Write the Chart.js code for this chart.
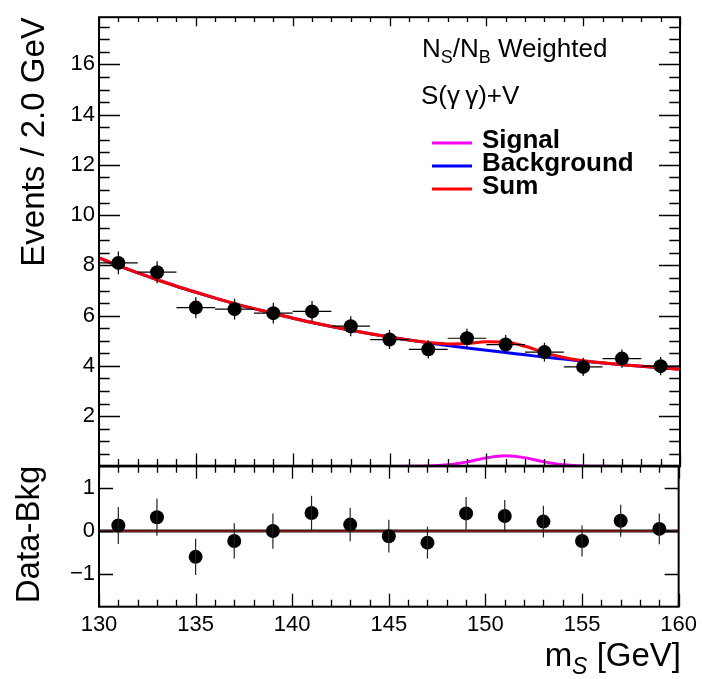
<!DOCTYPE html>
<html>
<head>
<meta charset="utf-8">
<script src="https://cdn.jsdelivr.net/npm/chart.js@4.4.1/dist/chart.umd.min.js"></script>
<style>
  body { margin: 0; background: #fff; }
  #wrap { position: relative; width: 702px; height: 679px; }
  #topPad { position: absolute; left: 0; top: 0; }
  #bottomPad { position: absolute; left: 0; top: 446px; }
</style>
</head>
<body>
<div id="wrap">
  <canvas id="topPad" width="702" height="487"></canvas>
  <canvas id="bottomPad" width="702" height="233"></canvas>
</div>
<script>
// bin centres (2 GeV bins) and the weighted event counts
var massBins = [131, 133, 135, 137, 139, 141, 143, 145, 147, 149, 151, 153, 155, 157, 159];
var binHalfWidth = 1;
var eventCounts = [8.10, 7.73, 6.32, 6.26, 6.10, 6.17, 5.58, 5.05, 4.66, 5.10, 4.85, 4.55, 3.96, 4.29, 3.99];
var eventErrors = [0.45, 0.44, 0.42, 0.41, 0.41, 0.41, 0.40, 0.38, 0.37, 0.38, 0.38, 0.37, 0.36, 0.36, 0.36];

// data minus background fit
var residualValues = [0.13, 0.32, -0.60, -0.23, 0.00, 0.42, 0.15, -0.12, -0.27, 0.41, 0.35, 0.22, -0.23, 0.24, 0.05];
var residualErrors = [0.43, 0.43, 0.42, 0.41, 0.41, 0.40, 0.39, 0.38, 0.37, 0.38, 0.37, 0.37, 0.36, 0.37, 0.36];

// background fit curve
var bkgMass = [130, 131, 132, 133, 134, 135, 136, 137, 138, 139, 140, 141, 142, 143, 144, 145,
               146, 147, 148, 149, 150, 151, 152, 153, 154, 155, 156, 157, 158, 159, 160];
var bkgValues = [8.30, 7.99, 7.70, 7.43, 7.17, 6.93, 6.70, 6.48, 6.28, 6.09, 5.90, 5.73, 5.57, 5.42, 5.28, 5.15,
                 5.03, 4.92, 4.81, 4.71, 4.62, 4.53, 4.44, 4.35, 4.27, 4.19, 4.12, 4.05, 3.99, 3.93, 3.87];

// signal shape
var sigMass = [145, 146, 147, 148, 149, 150, 151, 152, 153, 154, 155, 156, 157];
var sigValues = [0.00, 0.002, 0.015, 0.065, 0.18, 0.34, 0.42, 0.34, 0.18, 0.065, 0.015, 0.002, 0.00];

// axis ticks
var xTickLabels = [130, 135, 140, 145, 150, 155, 160];
var yTopTickLabels = [2, 4, 6, 8, 10, 12, 14, 16];
var yBottomTickLabels = [-1, 0, 1];
var zeroLineX = [130, 160];
var zeroLineY = [0, 0];

var FONT = '"Liberation Sans", Arial, Helvetica, sans-serif';
Chart.defaults.font.family = FONT;
Chart.defaults.color = '#000';

function pts(xs, ys) {
	return xs.map(function(x, i) { return {x: x, y: ys[i]}; });
}

var sumValues = bkgValues.map(function(b, i) {
	var k = sigMass.indexOf(bkgMass[i]);
	return k >= 0 ? b + sigValues[k] : b;
});

// error bars through the chart's own scales
var errorBars = {
	id: 'errorBars',
	afterDatasetsDraw: function(chart) {
		var ctx = chart.ctx, xs = chart.scales.x, ys = chart.scales.y;
		chart.data.datasets.forEach(function(ds) {
			if (!ds.errY) return;
			ctx.save();
			ctx.strokeStyle = ds.errColor || '#000';
			ctx.lineWidth = 1.2;
			ds.data.forEach(function(p, i) {
				var px = xs.getPixelForValue(p.x);
				ctx.beginPath();
				ctx.moveTo(px, ys.getPixelForValue(p.y - ds.errY[i]));
				ctx.lineTo(px, ys.getPixelForValue(p.y + ds.errY[i]));
				if (ds.errX) {
					var py = ys.getPixelForValue(p.y);
					ctx.moveTo(xs.getPixelForValue(p.x - ds.errX), py);
					ctx.lineTo(xs.getPixelForValue(p.x + ds.errX), py);
				}
				ctx.stroke();
			});
			ctx.restore();
		});
	}
};

// ROOT style frame with inward ticks
var rootFrame = {
	id: 'rootFrame',
	afterDraw: function(chart, args, o) {
		var ctx = chart.ctx, a = chart.chartArea;
		var xs = chart.scales.x, ys = chart.scales.y;
		var isMajor = function(v, step) { return Math.abs(v / step - Math.round(v / step)) < 1e-6; };
		ctx.save();
		ctx.strokeStyle = '#000';
		ctx.lineWidth = 1.3;
		ctx.beginPath();
		for (var v = xs.min; v <= xs.max + 1e-9; v += o.xMinor) {
			var px = Math.round(xs.getPixelForValue(v)) + 0.5;
			var maj = isMajor(v, o.xMajor);
			var lb = maj ? o.xBottom[0] : o.xBottom[1];
			var lt = maj ? o.xTop[0] : o.xTop[1];
			ctx.moveTo(px, a.bottom); ctx.lineTo(px, a.bottom - lb);
			ctx.moveTo(px, a.top); ctx.lineTo(px, a.top + lt);
		}
		var start = Math.ceil(ys.min / o.yMinor - 1e-9) * o.yMinor;
		for (var w = start; w <= ys.max + 1e-9; w += o.yMinor) {
			var py = Math.round(ys.getPixelForValue(w)) + 0.5;
			var l = isMajor(w, o.yMajor) ? o.yLen[0] : o.yLen[1];
			if (!l) continue;
			ctx.moveTo(a.left, py); ctx.lineTo(a.left + l, py);
			ctx.moveTo(a.right, py); ctx.lineTo(a.right - l, py);
		}
		ctx.stroke();
		ctx.lineWidth = 2;
		ctx.strokeRect(a.left, a.top, a.right - a.left, a.bottom - a.top);
		ctx.restore();
	}
};

// draws a run of text pieces, each with its own font and baseline shift
function drawRich(ctx, x, y, parts, align) {
	var total = 0;
	parts.forEach(function(p) { ctx.font = p.font; total += ctx.measureText(p.text).width; });
	var cx = align === 'right' ? x - total : x;
	parts.forEach(function(p) {
		ctx.font = p.font;
		ctx.fillText(p.text, cx, y + (p.dy || 0));
		cx += ctx.measureText(p.text).width;
	});
}

var topLabels = {
	id: 'topLabels',
	afterDraw: function(chart) {
		var ctx = chart.ctx;
		ctx.save();
		ctx.fillStyle = '#000';
		ctx.textBaseline = 'alphabetic';
		var big = '26px ' + FONT, sub = '18px ' + FONT;
		drawRich(ctx, 422, 57, [
			{text: 'N', font: big}, {text: 'S', font: sub, dy: 6},
			{text: '/N', font: big}, {text: 'B', font: sub, dy: 6},
			{text: ' Weighted', font: big}
		]);
		drawRich(ctx, 421, 104, [{text: 'S(\u03b3\u2009\u03b3)+V', font: big}]);

		var entries = [
			{label: 'Signal', color: '#ff00ff'},
			{label: 'Background', color: '#0000ff'},
			{label: 'Sum', color: '#ff0000'}
		];
		entries.forEach(function(e, i) {
			var base = 148 + i * 23;
			ctx.strokeStyle = e.color;
			ctx.lineWidth = 3;
			ctx.beginPath();
			ctx.moveTo(432, base - 5);
			ctx.lineTo(472, base - 5);
			ctx.stroke();
			ctx.font = 'bold 26px ' + FONT;
			ctx.fillText(e.label, 482, base);
		});
		ctx.restore();
	}
};

var bottomLabels = {
	id: 'bottomLabels',
	afterDraw: function(chart) {
		var ctx = chart.ctx;
		ctx.save();
		ctx.fillStyle = '#000';
		ctx.textBaseline = 'alphabetic';
		drawRich(ctx, 681, 220, [
			{text: 'm', font: '33px ' + FONT},
			{text: 'S', font: 'italic 23px ' + FONT, dy: 8},
			{text: ' [GeV]', font: '33px ' + FONT}
		], 'right');
		ctx.restore();
	}
};

new Chart(document.getElementById('topPad'), {
	type: 'scatter',
	data: {
		datasets: [
			{
				label: 'Data',
				data: pts(massBins, eventCounts),
				pointRadius: 7,
				pointBackgroundColor: '#000',
				pointBorderWidth: 0,
				errY: eventErrors,
				errX: binHalfWidth,
				order: 0
			},
			{
				label: 'Sum',
				type: 'line',
				data: pts(bkgMass, sumValues),
				borderColor: '#ff0000',
				borderWidth: 3,
				pointRadius: 0,
				fill: false,
				cubicInterpolationMode: 'monotone',
				order: 1
			},
			{
				label: 'Background',
				type: 'line',
				data: pts(bkgMass, bkgValues),
				borderColor: '#0000ff',
				borderWidth: 3,
				pointRadius: 0,
				fill: false,
				cubicInterpolationMode: 'monotone',
				order: 2
			},
			{
				label: 'Signal',
				type: 'line',
				data: pts(sigMass, sigValues),
				borderColor: '#ff00ff',
				borderWidth: 3,
				pointRadius: 0,
				fill: false,
				cubicInterpolationMode: 'monotone',
				order: 3
			}
		]
	},
	options: {
		responsive: false,
		animation: false,
		events: [],
		layout: { padding: { left: 0, right: 22, top: 13, bottom: 20.6 } },
		plugins: {
			legend: { display: false },
			tooltip: { enabled: false },
			rootFrame: { xMinor: 1, xMajor: 5, xBottom: [13, 7.5], xTop: [9, 4.7], yMinor: 0.5, yMajor: 2, yLen: [21, 10.7] }
		},
		scales: {
			x: { type: 'linear', min: 130, max: 160, display: false },
			y: {
				min: 0,
				max: 17.88,
				afterFit: function(s) { s.width = 99; },
				afterBuildTicks: function(s) { s.ticks = yTopTickLabels.map(function(v) { return {value: v}; }); },
				grid: { display: false, drawTicks: false },
				border: { display: false },
				ticks: { padding: 4, font: { size: 22 }, color: '#000' },
				title: { display: true, text: 'Events / 2.0 GeV', align: 'end', font: { size: 33 }, padding: { top: 15, bottom: 0 }, color: '#000' }
			}
		}
	},
	plugins: [errorBars, rootFrame, topLabels]
});

new Chart(document.getElementById('bottomPad'), {
	type: 'scatter',
	data: {
		datasets: [
			{
				label: 'Data-Bkg',
				data: pts(massBins, residualValues),
				pointRadius: 7,
				pointBackgroundColor: '#000',
				pointBorderWidth: 0,
				errY: residualErrors,
				errColor: '#222',
				order: 0
			},
			{
				label: 'zero',
				type: 'line',
				data: pts(zeroLineX, zeroLineY),
				borderColor: '#b01818',
				borderWidth: 1.2,
				pointRadius: 0,
				order: 1
			},
			{
				label: 'zero edge',
				type: 'line',
				data: pts(zeroLineX, zeroLineY),
				borderColor: '#111',
				borderWidth: 3,
				pointRadius: 0,
				order: 2
			}
		]
	},
	options: {
		responsive: false,
		animation: false,
		events: [],
		layout: { padding: { left: 0, right: 22, top: 19.7, bottom: 0 } },
		plugins: {
			legend: { display: false },
			tooltip: { enabled: false },
			rootFrame: { xMinor: 1, xMajor: 5, xBottom: [13, 7], xTop: [13, 7], yMinor: 1, yMajor: 1, yLen: [14, 0] }
		},
		scales: {
			x: {
				type: 'linear',
				min: 130,
				max: 160,
				afterFit: function(s) { s.height = 72.3; },
				afterBuildTicks: function(s) { s.ticks = xTickLabels.map(function(v) { return {value: v}; }); },
				grid: { display: false, drawTicks: false },
				border: { display: false },
				ticks: { padding: 5, font: { size: 22 }, color: '#000', maxRotation: 0, autoSkip: false }
			},
			y: {
				min: -1.76,
				max: 1.52,
				afterFit: function(s) { s.width = 99; },
				afterBuildTicks: function(s) { s.ticks = yBottomTickLabels.map(function(v) { return {value: v}; }); },
				grid: { display: false, drawTicks: false },
				border: { display: false },
				ticks: {
					padding: 4,
					font: { size: 22 },
					color: '#000',
					callback: function(v) { return v < 0 ? '\u2212' + Math.abs(v) : String(v); }
				},
				title: { display: true, text: 'Data-Bkg', align: 'end', font: { size: 33 }, padding: { top: 10, bottom: 0 }, color: '#000' }
			}
		}
	},
	plugins: [errorBars, rootFrame, bottomLabels]
});
</script>
</body>
</html>
